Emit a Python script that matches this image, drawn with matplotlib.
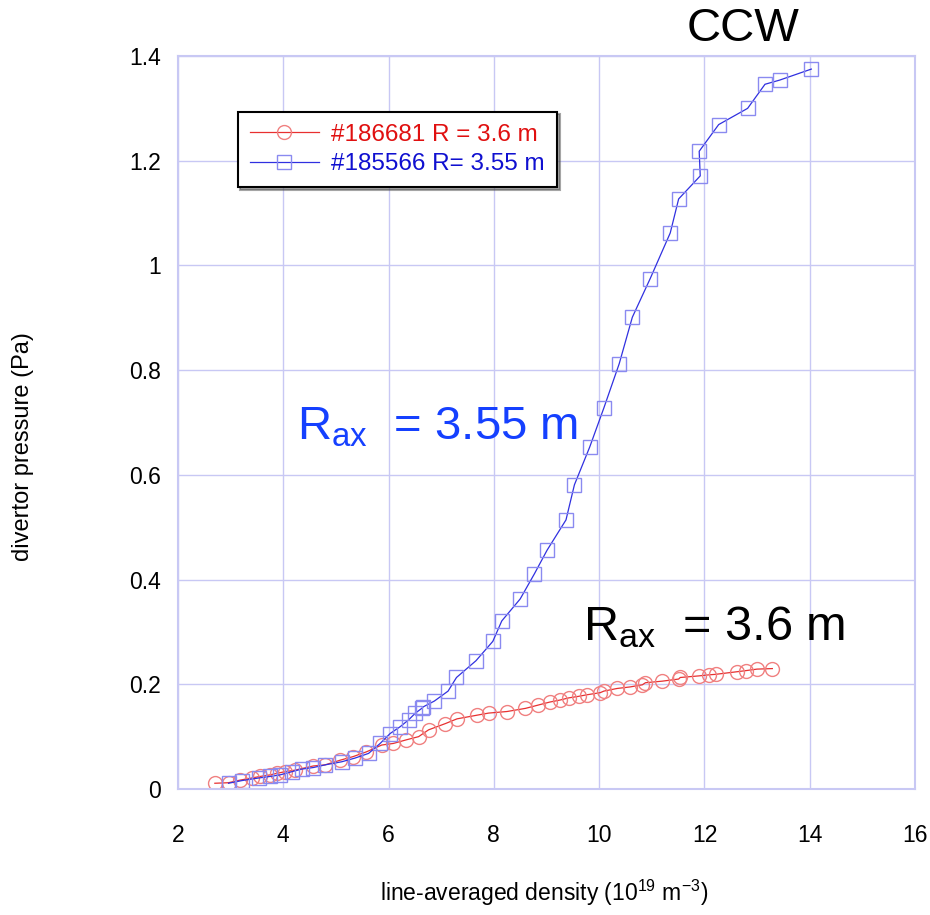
import numpy as np
import matplotlib.pyplot as plt

plt.rcParams['font.family'] = ['Liberation Sans', 'DejaVu Sans']
plt.rcParams['mathtext.fontset'] = 'custom'
plt.rcParams['mathtext.rm'] = 'Liberation Sans'
plt.rcParams['mathtext.it'] = 'Liberation Sans'

# shot 186681, R = 3.6 m
dens_36 = [2.70, 2.96, 3.18, 3.40, 3.56, 3.75, 3.88, 4.03, 4.22, 4.57, 4.79, 5.08,
           5.33, 5.58, 5.87, 6.09, 6.34, 6.57, 6.76, 7.08, 7.30, 7.68, 7.90, 8.25,
           8.60, 8.83, 9.06, 9.26, 9.42, 9.61, 9.77, 10.02, 10.09, 10.34, 10.59,
           10.82, 10.88, 11.20, 11.51, 11.54, 11.89, 12.08, 12.21, 12.62, 12.78,
           13.00, 13.29]
pres_36 = [0.011, 0.012, 0.017, 0.021, 0.024, 0.027, 0.030, 0.033, 0.036, 0.044,
           0.046, 0.055, 0.062, 0.071, 0.084, 0.087, 0.094, 0.100, 0.113, 0.125,
           0.134, 0.141, 0.145, 0.148, 0.154, 0.160, 0.166, 0.170, 0.174, 0.177,
           0.180, 0.184, 0.187, 0.192, 0.195, 0.199, 0.203, 0.206, 0.210, 0.213,
           0.216, 0.218, 0.219, 0.224, 0.226, 0.229, 0.230]

# shot 185566, R = 3.55 m
dens_355 = [2.96, 3.21, 3.53, 3.75, 3.94, 4.16, 4.35, 4.57, 4.79, 5.11, 5.36, 5.62,
            5.84, 6.03, 6.22, 6.38, 6.51, 6.63, 6.66, 6.87, 7.13, 7.29, 7.66, 7.98,
            8.15, 8.50, 8.77, 9.01, 9.37, 9.53, 9.82, 10.09, 10.38, 10.63, 10.97,
            11.35, 11.51, 11.92, 11.90, 12.27, 12.82, 13.15, 13.43, 14.03]
pres_355 = [0.011, 0.016, 0.021, 0.024, 0.027, 0.033, 0.038, 0.041, 0.046, 0.052,
            0.059, 0.068, 0.087, 0.106, 0.119, 0.132, 0.145, 0.154, 0.157, 0.168,
            0.187, 0.213, 0.245, 0.282, 0.321, 0.363, 0.411, 0.456, 0.514, 0.581,
            0.653, 0.728, 0.812, 0.901, 0.975, 1.062, 1.127, 1.171, 1.218, 1.269,
            1.300, 1.346, 1.354, 1.375]

grid_c = '#c8c8f4'

fig = plt.figure(figsize=(9.3, 9.15), dpi=100)
ax = fig.add_axes([0.1914, 0.1377, 0.7925, 0.8011])

ax.plot(dens_36, pres_36, '-', color='#e83030', lw=0.9, marker='o', ms=10,
        mfc='none', mec='#f08080', mew=1.0, label='#186681 R = 3.6 m')
ax.plot(dens_355, pres_355, '-', color='#3030e0', lw=0.9, marker='s', ms=9.5,
        mfc='none', mec='#8a8af0', mew=1.0, label='#185566 R= 3.55 m')

ax.set_xlim(2, 16)
ax.set_ylim(0, 1.4)
ax.set_xticks(np.arange(2, 17, 2))
ax.set_yticks([0, 0.2, 0.4, 0.6, 0.8, 1.0, 1.2, 1.4])
ax.set_yticklabels(['0', '0.2', '0.4', '0.6', '0.8', '1', '1.2', '1.4'])
ax.grid(True, color=grid_c, lw=1.0)
ax.set_axisbelow(True)
for s in ax.spines.values():
    s.set_color(grid_c)
    s.set_linewidth(1.5)
ax.tick_params(axis='x', length=0, labelsize=16.5, pad=25)
ax.tick_params(axis='y', length=0, labelsize=16.5, pad=12)

ax.set_xlabel('line-averaged density (10$^{19}$ m$^{-3}$)', fontsize=16.5)
ax.xaxis.label.set_va('center')
ax.xaxis.set_label_coords(0.497, -0.142)
ax.set_ylabel('divertor pressure (Pa)', fontsize=17)
ax.yaxis.set_label_coords(-0.195, 0.467)

leg = ax.legend(loc='upper left', bbox_to_anchor=(0.081, 0.924), fontsize=17.5,
                frameon=True, fancybox=False, shadow=True, handlelength=2.85,
                borderpad=0.5, labelspacing=0.3, handletextpad=0.5,
                borderaxespad=0)
leg.get_frame().set_edgecolor('black')
leg.get_frame().set_linewidth(1.5)
leg.texts[0].set_color('#e01010')
leg.texts[1].set_color('#1010d0')

fig.text(0.799, 0.968, 'CCW', fontsize=34, ha='center', va='center')
ax.text(0.161, 0.4925, r'R$_{\mathrm{ax}}$  = 3.55 m', transform=ax.transAxes,
        fontsize=34, color='#1540ff', va='center')
ax.text(0.55, 0.221, r'R$_{\mathrm{ax}}$  = 3.6 m', transform=ax.transAxes,
        fontsize=35, color='black', va='center')

fig.savefig('out.png', dpi=100)
